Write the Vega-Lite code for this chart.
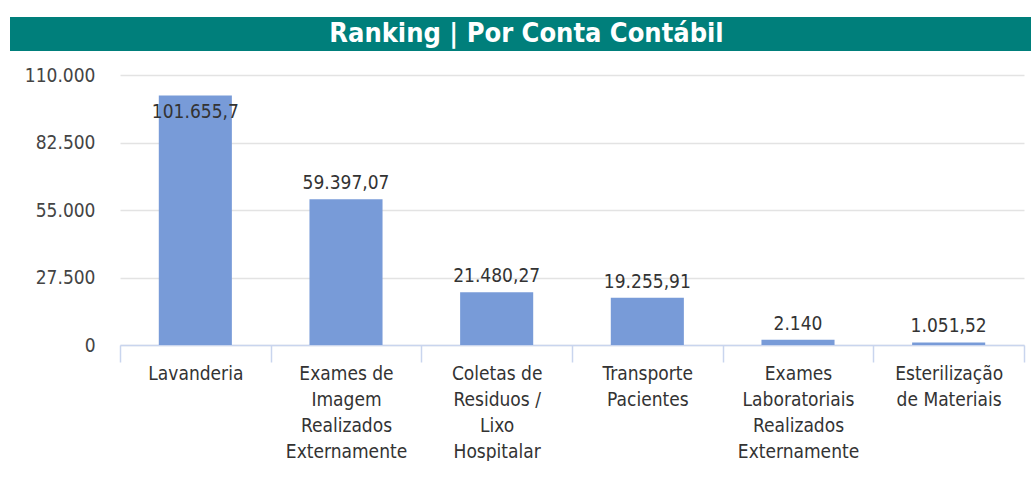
{
  "$schema": "https://vega.github.io/schema/vega-lite/v6.json",
  "padding": {"left": 10, "top": 17, "right": 0, "bottom": 0},
  "background": "white",
  "spacing": 15,
  "config": {
    "locale": {"number": {"decimal": ",", "thousands": ".", "grouping": [3], "currency": ["R$ ", ""]}},
    "font": "Liberation Sans Narrow, DejaVu Sans Condensed, sans-serif",
    "view": {"stroke": null}
  },
  "vconcat": [
    {
      "width": 1021,
      "height": 34,
      "view": {"fill": "#007F7B", "stroke": null},
      "data": {"values": [{"titulo": "Ranking | Por Conta Contábil"}]},
      "mark": {"type": "text", "color": "white", "fontSize": 27, "fontWeight": "bold", "baseline": "middle", "align": "center", "dx": 6},
      "encoding": {"text": {"field": "titulo"}}
    },
    {
      "width": 1014,
      "height": 270,
      "data": {"values": [
        {"conta": "Lavanderia", "valor": 101655.7},
        {"conta": "Exames de Imagem Realizados Externamente", "valor": 59397.07},
        {"conta": "Coletas de Residuos / Lixo Hospitalar", "valor": 21480.27},
        {"conta": "Transporte Pacientes", "valor": 19255.91},
        {"conta": "Exames Laboratoriais Realizados Externamente", "valor": 2140},
        {"conta": "Esterilização de Materiais", "valor": 1051.52}
      ]},
      "encoding": {
        "x": {
          "field": "conta", "type": "nominal", "sort": null,
          "scale": {"paddingInner": 0, "paddingOuter": 0, "range": [110, 1014]},
          "axis": {
            "title": null, "labelAngle": 0, "tickBand": "extent", "tickSize": 17,
            "tickColor": "#C9D5EE", "domainColor": "#C9D5EE", "tickWidth": 1.5, "domainWidth": 1.5,
            "labelFontSize": 19, "labelLineHeight": 26, "labelColor": "#333333",
            "labelPadding": 2, "labelBaseline": "top", "labelLimit": 0,
            "labelExpr": "datum.value == 'Exames de Imagem Realizados Externamente' ? ['Exames de', 'Imagem', 'Realizados', 'Externamente'] : datum.value == 'Coletas de Residuos / Lixo Hospitalar' ? ['Coletas de', 'Residuos /', 'Lixo', 'Hospitalar'] : datum.value == 'Transporte Pacientes' ? ['Transporte', 'Pacientes'] : datum.value == 'Exames Laboratoriais Realizados Externamente' ? ['Exames', 'Laboratoriais', 'Realizados', 'Externamente'] : datum.value == 'Esterilização de Materiais' ? ['Esterilização', 'de Materiais'] : datum.value"
          }
        },
        "y": {
          "field": "valor", "type": "quantitative",
          "scale": {"domain": [0, 110000], "nice": false},
          "axis": {
            "title": null, "values": [0, 27500, 55000, 82500, 110000], "format": ",d",
            "domain": false, "ticks": false, "labelPadding": 25, "labelFontSize": 19,
            "labelColor": "#444444", "gridColor": "#E3E3E3", "gridWidth": 1.5,
            "offset": -110
          }
        }
      },
      "layer": [
        {"mark": {"type": "bar", "color": "#789BD8", "width": {"band": 0.485}}},
        {
          "transform": [{"filter": "datum.valor >= 100000"}],
          "mark": {"type": "text", "fontSize": 19, "color": "#333333", "baseline": "middle", "dy": 17},
          "encoding": {"text": {"field": "valor", "type": "quantitative", "format": ",.2~f"}}
        },
        {
          "transform": [{"filter": "datum.valor < 100000"}],
          "mark": {"type": "text", "fontSize": 19, "color": "#333333", "baseline": "middle", "dy": -16},
          "encoding": {"text": {"field": "valor", "type": "quantitative", "format": ",.2~f"}}
        }
      ]
    }
  ]
}
